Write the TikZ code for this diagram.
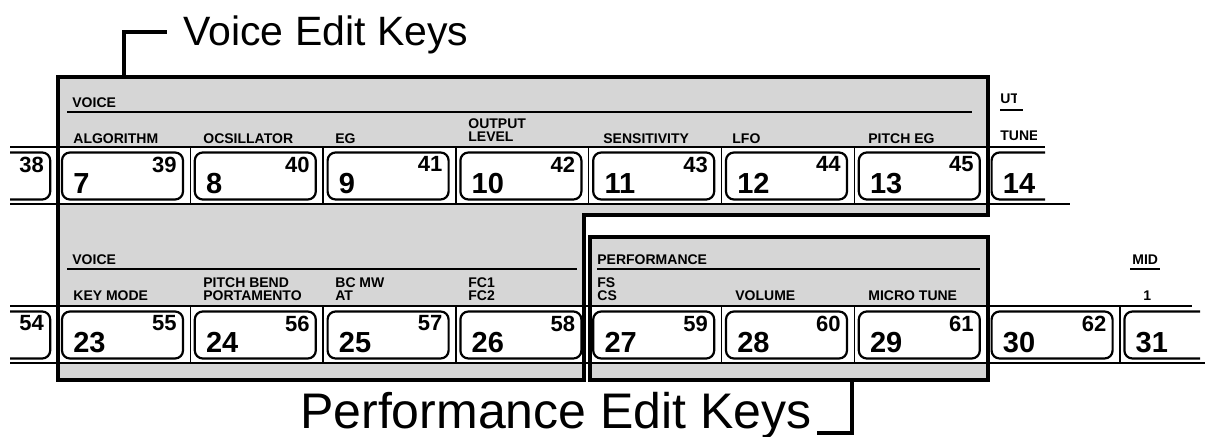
\documentclass[tikz,border=0pt]{standalone}
\usepackage{fontspec}
\setmainfont{Liberation Sans}
\usetikzlibrary{calc}
\definecolor{screengray}{RGB}{214,214,214}

\tikzset{
  keycap/.style={draw, line width=1.1pt, rounded corners=4pt, fill=white,
    minimum width=60.5pt, minimum height=23.5pt, inner sep=0pt},
  bignum/.style={font=\fontsize{14.5}{14.5}\selectfont\bfseries, inner sep=0pt, anchor=base west},
  smallnum/.style={font=\fontsize{11}{11}\selectfont\bfseries, inner sep=0pt, anchor=north east},
  tag/.style={font=\fontsize{7}{6.3}\selectfont\bfseries, inner sep=0pt, anchor=south west, align=left},
  rowline/.style={line width=0.7pt},
  edgebox/.style={line width=2pt},
  leader/.style={line width=2pt},
}

\begin{document}
\begin{tikzpicture}[x=0.5pt, y=-0.5pt]
    \useasboundingbox (0,0) rectangle (1211,437);
    % screened panels
    \fill[screengray] (58,77) -- (988,77) -- (988,215) -- (584,215) -- (584,380) -- (58,380) -- cycle;
    \fill[screengray] (589.5,237) rectangle (988,380);
    \fill[white] (58,147) rectangle (988,204);
    \fill[white] (58,306) rectangle (584,363);
    \fill[white] (589.5,306) rectangle (988,363);
    % key rows
    \draw[rowline] (10,147) -- (1045,147);
    \draw[rowline] (10,204) -- (1070,204);
    \draw[rowline] (10,306) -- (1192,306);
    \draw[rowline] (10,363) -- (1205,363);
    \foreach \ki in {1,...,6} \draw[rowline] ({57.5+132.8*\ki},147) -- ++(0,57);
    \foreach \ki in {1,2,3,5,6,8} \draw[rowline] ({57.5+132.8*\ki},306) -- ++(0,57);
    \foreach \ki/\ky/\kn/\ks in {0/176/7/39, 1/176/8/40, 2/176/9/41, 3/176/10/42,
        4/176/11/43, 5/176/12/44, 6/176/13/45, 0/335/23/55, 1/335/24/56, 2/335/25/57,
        3/335/26/58, 4/335/27/59, 5/335/28/60, 6/335/29/61, 7/335/30/62} {
      \node[keycap] (k\kn) at ({122.5+132.8*\ki},\ky) {};
      \node[bignum] (n\kn) at ($(k\kn.south west)+(12,-7)$) {\kn};
      \node[smallnum] (s\kn) at ($(k\kn.north east)+(-7,5)$) {\ks};
    }
    % keys cut by the page edge
    \begin{scope}
      \clip (10,140) rectangle (57,370);
      \node[keycap] (k6) at ({122.5-132.8},176) {};
      \node[smallnum] (s38) at ($(k6.north east)+(-7,5)$) {38};
      \node[keycap] (k22) at ({122.5-132.8},335) {};
      \node[smallnum] (s54) at ($(k22.north east)+(-7,5)$) {54};
    \end{scope}
    \begin{scope}
      \clip (985,140) rectangle (1045,210);
      \node[keycap] (k14) at ({122.5+132.8*7},176) {};
      \node[bignum] (n14) at ($(k14.south west)+(12,-7)$) {14};
    \end{scope}
    \begin{scope}
      \clip (1115,300) rectangle (1200,370);
      \node[keycap] (k31) at ({122.5+132.8*8},335) {};
      \node[bignum] (n31) at ($(k31.south west)+(12,-7)$) {31};
    \end{scope}
    % upper labels
    \node[tag] (voiceA) at (72,108) {VOICE};
    \draw[rowline] (67,112) -- (972,112);
    \node[tag] (algo) at (73,144) {ALGORITHM};
    \node[tag] (osc) at (203,144) {OCSILLATOR};
    \node[tag] (eg) at (335,144) {EG};
    \node[tag] (outlvl) at (468,142) {OUTPUT\\LEVEL};
    \node[tag] (sens) at (603,144) {SENSITIVITY};
    \node[tag] (lfo) at (732,144) {LFO};
    \node[tag] (peg) at (868,144) {PITCH EG};
    \begin{scope}
      \clip (995,80) rectangle (1016,108);
      \node[tag] (ut) at (1000,104) {UT};
    \end{scope}
    \draw[rowline] (1000,110) -- (1023,110);
    \begin{scope}
      \clip (995,120) rectangle (1036,145);
      \node[tag] (tune) at (1000,141) {TUNE};
    \end{scope}
    % lower labels
    \node[tag] (voiceB) at (72,265) {VOICE};
    \draw[rowline] (67,269) -- (577,269);
    \node[tag] (keymode) at (73,301) {KEY MODE};
    \node[tag] (pbend) at (203,301) {PITCH BEND\\PORTAMENTO};
    \node[tag] (bcmw) at (335,301) {BC MW\\AT};
    \node[tag] (fc) at (468,301) {FC1\\FC2};
    \node[tag] (perf) at (597,265) {PERFORMANCE};
    \draw[rowline] (597,269) -- (980,269);
    \node[tag] (fscs) at (597,301) {FS\\CS};
    \node[tag] (vol) at (735,301) {VOLUME};
    \node[tag] (mtune) at (868,301) {MICRO TUNE};
    \node[tag] (mid) at (1132,265) {MID};
    \draw[rowline] ($(mid.south west)+(-2,4)$) -- ($(mid.south east)+(2,4)$);
    \node[tag] (one) at (1143,301) {1};
    % edit key outlines
    \draw[edgebox] (58,77) -- (988,77) -- (988,215) -- (584,215) -- (584,380) -- (58,380) -- cycle;
    \draw[edgebox] (589.5,237) rectangle (988,380);
    % callouts
    \coordinate (vtap) at (124,77);
    \coordinate (vend) at (167,32);
    \draw[leader] (vtap) |- (vend);
    \node[font=\fontsize{20.5}{20.5}\selectfont, inner sep=0pt, anchor=base west] (vtitle) at (183,46) {Voice Edit Keys};
    \coordinate (ptap) at (852,380);
    \coordinate (pend) at (817,433);
    \draw[leader] (ptap) |- (pend);
    \node[font=\fontsize{25}{25}\selectfont, inner sep=0pt, anchor=base east] (ptitle) at (812,429) {Performance Edit Keys};
\end{tikzpicture}
\end{document}
